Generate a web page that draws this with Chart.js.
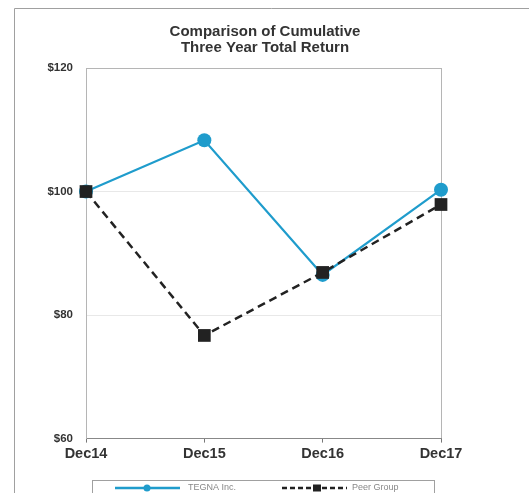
<!DOCTYPE html>
<html><head><meta charset="utf-8">
<script src="https://cdn.jsdelivr.net/npm/chart.js@4.4.0/dist/chart.umd.min.js"></script>
<style>html,body{margin:0;padding:0;background:#fff}#wrap{width:529px;height:493px}</style>
</head><body><div id="wrap"><canvas id="c" width="529" height="493"></canvas></div>
<script>
const categories = ["Dec14", "Dec15", "Dec16", "Dec17"];
const tegna = [100, 108.3, 86.5, 100.3];
const peer = [100, 76.7, 86.9, 97.9];
const yTicks = [60, 80, 100, 120];
const seriesNames = ["TEGNA Inc.", "Peer Group"];
const titleLines = ["Comparison of Cumulative", "Three Year Total Return"];

const BLUE = '#1f9ccc';
const FONT = "'Liberation Sans', Arial, sans-serif";

const framePlugin = {
  id: 'frame',
  beforeDraw(chart) {
    const ctx = chart.ctx;
    ctx.save();
    ctx.strokeStyle = '#a0a0a0';
    ctx.lineWidth = 1;
    ctx.beginPath();
    ctx.moveTo(14.5, 493);
    ctx.lineTo(14.5, 8.5);
    ctx.lineTo(529, 8.5);
    ctx.stroke();
    // title
    ctx.fillStyle = '#333';
    ctx.font = "bold 15px " + FONT;
    ctx.textAlign = 'center';
    ctx.textBaseline = 'middle';
    ctx.fillText(titleLines[0], 265, 32);
    ctx.fillText(titleLines[1], 265, 48);
    ctx.restore();
  },
  afterDraw(chart) {
    const ctx = chart.ctx;
    ctx.save();
    ctx.strokeStyle = '#a0a0a0';
    ctx.lineWidth = 1;
    ctx.strokeRect(92.5, 480.5, 342, 20);
    const yy = 488;
    // TEGNA sample
    ctx.strokeStyle = BLUE; ctx.lineWidth = 2.5; ctx.setLineDash([]);
    ctx.beginPath(); ctx.moveTo(115, yy); ctx.lineTo(180, yy); ctx.stroke();
    ctx.fillStyle = BLUE; ctx.beginPath(); ctx.arc(147, yy, 3.5, 0, Math.PI*2); ctx.fill();
    // Peer sample
    ctx.strokeStyle = '#222'; ctx.lineWidth = 2.5; ctx.setLineDash([5,3]);
    ctx.beginPath(); ctx.moveTo(282, yy); ctx.lineTo(347, yy); ctx.stroke();
    ctx.setLineDash([]);
    ctx.fillStyle = '#222'; ctx.fillRect(313, yy-3.5, 8, 7);
    ctx.fillStyle = '#888'; ctx.font = "9px " + FONT; ctx.textBaseline = 'middle';
    ctx.fillText(seriesNames[0], 188, yy);
    ctx.fillText(seriesNames[1], 352, yy);
    ctx.restore();
  }
};

new Chart(document.getElementById('c'), {
  type: 'line',
  data: {
    labels: categories,
    datasets: [
      { label: seriesNames[0], data: tegna, borderColor: BLUE, backgroundColor: BLUE,
        borderWidth: 2.2, pointStyle: 'circle', pointRadius: 7, pointHoverRadius: 7,
        pointBorderWidth: 0, tension: 0, clip: false, order: 2 },
      { label: seriesNames[1], data: peer, borderColor: '#222', backgroundColor: '#222',
        borderWidth: 2.5, borderDash: [8, 5], pointStyle: 'rect', pointRadius: 9, pointHoverRadius: 9,
        pointBorderWidth: 0, tension: 0, clip: false, order: 1 }
    ]
  },
  options: {
    responsive: false,
    animation: false,
    layout: { padding: { left: 0, right: 88, top: 68, bottom: 27 } },
    plugins: {
      legend: { display: false },
      tooltip: { enabled: false },
      title: { display: false }
    },
    scales: {
      x: {
        offset: false,
        grid: {
          color: (c) => c.index === categories.length - 1 ? '#b5b5b5' : 'rgba(0,0,0,0)',
          tickColor: '#777', tickLength: 4, drawTicks: true
        },
        border: { display: true, color: '#888', width: 1 },
        ticks: { color: '#333', padding: 3, font: { family: FONT, size: 14.5, weight: 'bold' } }
      },
      y: {
        min: 60, max: 120,
        afterBuildTicks: (s) => { s.ticks = yTicks.map(v => ({ value: v })); },
        afterFit: (s) => { s.width = 86; },
        grid: {
          drawTicks: false,
          color: (c) => c.tick.value === 120 ? '#b5b5b5' : (c.tick.value === 60 ? 'rgba(0,0,0,0)' : '#e8e8e8')
        },
        border: { display: true, color: '#b5b5b5', width: 1 },
        ticks: { color: '#333', padding: 13, callback: (v) => '$' + v,
          font: { family: FONT, size: 11.5, weight: 'bold' } }
      }
    }
  },
  plugins: [framePlugin]
});
</script>
</body></html>
